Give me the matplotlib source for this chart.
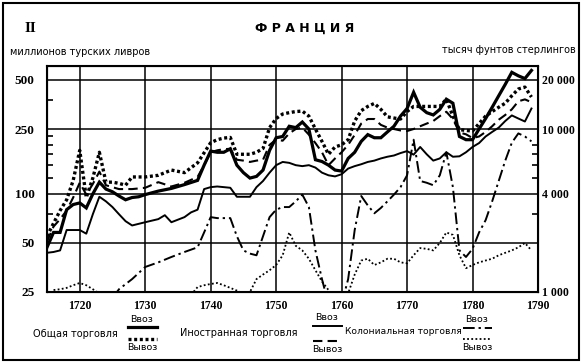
import numpy as np
import matplotlib.pyplot as plt
from matplotlib.lines import Line2D
from matplotlib.patches import Rectangle
from matplotlib.ticker import FixedLocator, NullFormatter

# millions of livres tournois (log scale); right axis = x40 (thousand pounds)
gen_imp_years = [1715, 1716, 1717, 1718, 1719, 1720, 1721, 1722, 1723, 1724, 1725, 1726, 1727, 1728,
                 1729, 1730, 1732, 1734, 1736, 1738, 1739, 1740, 1741, 1742, 1743, 1744, 1745, 1746,
                 1747, 1748, 1749, 1750, 1751, 1752, 1753, 1754, 1755, 1756, 1757, 1758, 1759, 1760,
                 1761, 1762, 1763, 1764, 1765, 1766, 1767, 1768, 1769, 1770, 1771, 1772, 1773, 1774,
                 1775, 1776, 1777, 1778, 1779, 1780, 1781, 1782, 1783, 1784, 1785, 1786, 1787, 1788, 1789]
gen_imp = [47, 58, 58, 80, 86, 88, 82, 100, 118, 107, 103, 97, 92, 95,
           96, 99, 104, 108, 114, 121, 150, 183, 180, 180, 189, 150, 135, 125,
           128, 140, 185, 221, 225, 260, 255, 276, 250, 162, 158, 150, 140, 138,
           165, 180, 210, 231, 221, 221, 240, 260, 300, 334, 420, 340, 315, 305,
           330, 381, 360, 225, 215, 215, 250, 290, 340, 400, 470, 557, 530, 510, 572]

gen_exp_years = [1715, 1716, 1717, 1718, 1719, 1720, 1721, 1722, 1723, 1724, 1725, 1726, 1727, 1728,
                 1730, 1732, 1734, 1736, 1738, 1740, 1741, 1742, 1743, 1744, 1746, 1747, 1748, 1749,
                 1750, 1751, 1752, 1753, 1754, 1755, 1756, 1757, 1758, 1759, 1760, 1761, 1762, 1763,
                 1764, 1765, 1766, 1767, 1768, 1769, 1770, 1771, 1772, 1773, 1774, 1775, 1776, 1777,
                 1778, 1779, 1780, 1781, 1782, 1783, 1784, 1785, 1786, 1787, 1788, 1789]
gen_exp = [55, 66, 79, 92, 121, 185, 95, 125, 180, 118, 118, 116, 113, 127,
           127, 130, 140, 135, 155, 206, 215, 220, 222, 175, 175, 180, 190, 255,
           290, 309, 315, 320, 322, 300, 250, 210, 175, 194, 200, 215, 280, 324,
           344, 359, 330, 297, 292, 288, 320, 344, 344, 344, 344, 344, 381, 300,
           248, 245, 243, 270, 300, 320, 340, 360, 400, 440, 452, 393]

for_imp_years = [1715, 1716, 1717, 1718, 1719, 1720, 1721, 1722, 1723, 1724, 1725, 1726, 1727, 1728,
                 1730, 1732, 1733, 1734, 1736, 1737, 1738, 1739, 1740, 1741, 1742, 1743, 1744, 1745,
                 1746, 1747, 1748, 1749, 1750, 1751, 1752, 1753, 1754, 1755, 1756, 1757, 1758, 1759,
                 1760, 1761, 1762, 1763, 1764, 1765, 1766, 1767, 1768, 1769, 1770, 1771, 1772, 1773,
                 1774, 1775, 1776, 1777, 1778, 1779, 1780, 1781, 1782, 1783, 1784, 1785, 1786, 1787,
                 1788, 1789]
for_imp = [43.5, 44, 45, 60, 60, 60, 57, 75, 96, 90, 83, 75, 68, 64,
           67, 70, 74, 67, 72, 77, 80, 107, 110, 111, 110, 109, 96, 96,
           96, 110, 120, 135, 150, 157, 155, 150, 148, 150, 145, 135, 130, 128,
           132, 143, 148, 152, 157, 160, 165, 169, 172, 178, 183, 174, 194, 175,
           160, 165, 180, 169, 170, 180, 194, 205, 225, 240, 255, 280, 303, 290,
           278, 334]

for_exp_years = [1715, 1716, 1717, 1718, 1719, 1720, 1721, 1722, 1723, 1724, 1726, 1728, 1730, 1732,
                 1734, 1736, 1738, 1739, 1740, 1741, 1742, 1743, 1744, 1745, 1746, 1747, 1748, 1749,
                 1750, 1751, 1752, 1753, 1754, 1755, 1756, 1757, 1758, 1759, 1760, 1761, 1762, 1763,
                 1764, 1765, 1766, 1767, 1768, 1769, 1770, 1771, 1772, 1773, 1774, 1775, 1776, 1777,
                 1778, 1779, 1780, 1781, 1782, 1783, 1784, 1785, 1786, 1787, 1788, 1789]
for_exp = [51, 63, 70, 79, 95, 117, 99, 115, 137, 113, 107, 107, 109, 118,
           111, 117, 127, 150, 180, 185, 188, 189, 162, 160, 157, 160, 162, 200,
           215, 212, 235, 250, 255, 231, 205, 180, 150, 165, 180, 200, 230, 270,
           288, 288, 265, 255, 250, 245, 243, 250, 260, 270, 280, 300, 319, 288,
           238, 232, 220, 225, 240, 260, 285, 305, 330, 370, 380, 365]

col_imp_years = [1725, 1726, 1728, 1730, 1732, 1734, 1736, 1738, 1739, 1740, 1741, 1742, 1743, 1744,
                 1745, 1746, 1747, 1748, 1749, 1750, 1751, 1752, 1753, 1754, 1755, 1756, 1757, 1758,
                 1759, 1760, 1761, 1762, 1763, 1764, 1765, 1766, 1767, 1768, 1769, 1770, 1771, 1772,
                 1773, 1774, 1775, 1776, 1777, 1778, 1779, 1780, 1781, 1782, 1783, 1784, 1785, 1786,
                 1787, 1788, 1789]
col_imp = [23, 26, 30, 35.6, 38, 41, 44, 47, 58, 72, 71, 71, 71, 55,
           45, 43, 42, 55, 72, 80, 83, 83, 90, 99, 83, 45, 30, 21,
           20, 21, 30, 60, 97, 85, 76, 82, 90, 99, 110, 130, 215, 120,
           117, 113, 130, 180, 110, 45, 41, 46, 58, 69, 90, 120, 160, 206,
           235, 225, 210]

col_exp_years = [1716, 1717, 1718, 1719, 1720, 1721, 1722, 1723, 1724, 1736, 1737, 1738, 1739, 1740,
                 1741, 1742, 1743, 1744, 1745, 1746, 1747, 1748, 1749, 1750, 1751, 1752, 1753, 1754,
                 1755, 1756, 1757, 1758, 1759, 1760, 1761, 1762, 1763, 1764, 1765, 1766, 1767, 1768,
                 1769, 1770, 1771, 1772, 1773, 1774, 1775, 1776, 1777, 1778, 1779, 1780, 1781, 1782,
                 1783, 1784, 1785, 1786, 1787, 1788, 1789]
col_exp = [25.7, 26, 26.5, 27.5, 28.4, 27.5, 26, 24.5, np.nan, np.nan, 24, 26.8, 27.5, 28,
           28.4, 27.5, 26.5, 25.5, 24.5, 25, 30, 32, 34, 36.6, 42, 58, 48, 45,
           40, 34, 29, 25.7, 23, 23, 24.5, 32, 39, 40, 36.6, 38, 40, 40,
           38, 37.5, 42, 46.5, 46, 45, 50, 58, 56, 42, 35, 36.6, 38, 39,
           40, 42, 43.5, 45, 47, 50, 45]

left_ticks = [25, 50, 100, 250, 500]
right_ticks = [1000, 4000, 10000, 20000]
right_labels = ['1 000', '4 000', '10 000', '20 000']
decades = list(range(1720, 1791, 10))

serif = 'Liberation Serif'
sans = 'DejaVu Sans'

fig = plt.figure(figsize=(5.84, 3.63), dpi=100)
ax = fig.add_axes([47 / 584, 1 - 292 / 363, 491 / 584, 226 / 363])
ax.set_yscale('log')
ax.set_xlim(1715, 1790)
ax.set_ylim(25, 609)

ax.plot(gen_imp_years, gen_imp, color='black', lw=2.3, solid_joinstyle='miter')
ax.plot(gen_exp_years, gen_exp, color='black', lw=2.4, linestyle=(0, (0.9, 0.8)))
ax.plot(for_imp_years, for_imp, color='black', lw=1.4)
ax.plot(for_exp_years, for_exp, color='black', lw=1.5, linestyle=(0, (4.5, 2.5)))
ax.plot(col_imp_years, col_imp, color='black', lw=1.4, linestyle=(0, (6, 2, 1.2, 2)))
ax.plot(col_exp_years, col_exp, color='black', lw=1.3, linestyle=(0, (1, 1.3)))

ax.set_xticks(decades)
ax.set_xticklabels([str(d) for d in decades], fontfamily=serif, fontsize=8.5, fontweight='bold')
ax.set_yticks(left_ticks)
ax.set_yticklabels([str(v) for v in left_ticks], fontfamily=serif, fontsize=9.5, fontweight='bold')
ax.yaxis.set_minor_locator(FixedLocator([75, 125, 150, 175, 200, 225, 375]))
ax.yaxis.set_minor_formatter(NullFormatter())
ax.tick_params(axis='both', which='major', length=0)
ax.tick_params(axis='x', pad=6)
ax.tick_params(axis='y', pad=9)
ax.tick_params(axis='y', which='minor', direction='in', length=4, width=1.2)
ax.grid(True, which='major', color='black', lw=1.1)
for s in ax.spines.values():
    s.set_linewidth(1.5)

ax2 = ax.twinx()
ax2.set_yscale('log')
ax2.set_ylim(25 * 40, 609 * 40)
ax2.set_yticks(right_ticks)
ax2.set_yticklabels(right_labels, fontfamily=serif, fontsize=8.5, fontweight='bold')
ax2.yaxis.set_minor_locator(FixedLocator([3000, 5000, 6000, 7000, 8000]))
ax2.yaxis.set_minor_formatter(NullFormatter())
ax2.tick_params(axis='y', which='major', length=0, pad=3)
ax2.tick_params(axis='y', which='minor', direction='in', length=4, width=1.2)

# headings
fig.text(25 / 584, 1 - 28 / 363, 'II', fontfamily=serif, fontsize=11, fontweight='bold', va='center')
fig.text(305 / 584, 1 - 28 / 363, 'Ф Р А Н Ц И Я', fontfamily=sans, fontsize=9, fontweight='bold',
         ha='center', va='center')
fig.text(10 / 584, 1 - 52 / 363, 'миллионов турских ливров', fontfamily=sans, fontsize=7, va='center')
fig.text(576 / 584, 1 - 50 / 363, 'тысяч фунтов стерлингов', fontfamily=sans, fontsize=7,
         ha='right', va='center')

# legend
def sample(x0, x1, y, **kw):
    fig.add_artist(Line2D([x0 / 584, x1 / 584], [1 - y / 363, 1 - y / 363], color='black', **kw))

def pair(label, lx, ly, sx, top_y, bot_y, top_kw, bot_kw, size=7):
    fig.text(lx / 584, 1 - ly / 363, label, fontfamily=sans, fontsize=size, va='center')
    fig.text((sx + 14) / 584, 1 - (top_y - 8) / 363, 'Ввоз', fontfamily=sans, fontsize=6.8,
             ha='center', va='center')
    sample(sx, sx + 29, top_y, **top_kw)
    sample(sx, sx + 29, bot_y, **bot_kw)
    fig.text((sx + 14) / 584, 1 - (bot_y + 9) / 363, 'Вывоз', fontfamily=sans, fontsize=6.8,
             ha='center', va='center')

pair('Общая торговля', 33, 334, 128, 327, 339,
     dict(lw=2.3), dict(lw=2.4, linestyle=(0, (0.9, 0.8))))
pair('Иностранная торговля', 180, 333, 313, 326, 341,
     dict(lw=1.4), dict(lw=1.5, linestyle=(0, (4.5, 2.5))))
pair('Колониальная торговля', 345, 332, 463, 328, 339,
     dict(lw=1.4, linestyle=(0, (6, 2, 1.2, 2))), dict(lw=1.3, linestyle=(0, (1, 1.3))), size=6.6)

fig.add_artist(Rectangle((3 / 584, 3 / 363), 576 / 584, 357 / 363, transform=fig.transFigure,
                         fill=False, lw=1.5, edgecolor='black'))

fig.savefig('out.png', dpi=100)
